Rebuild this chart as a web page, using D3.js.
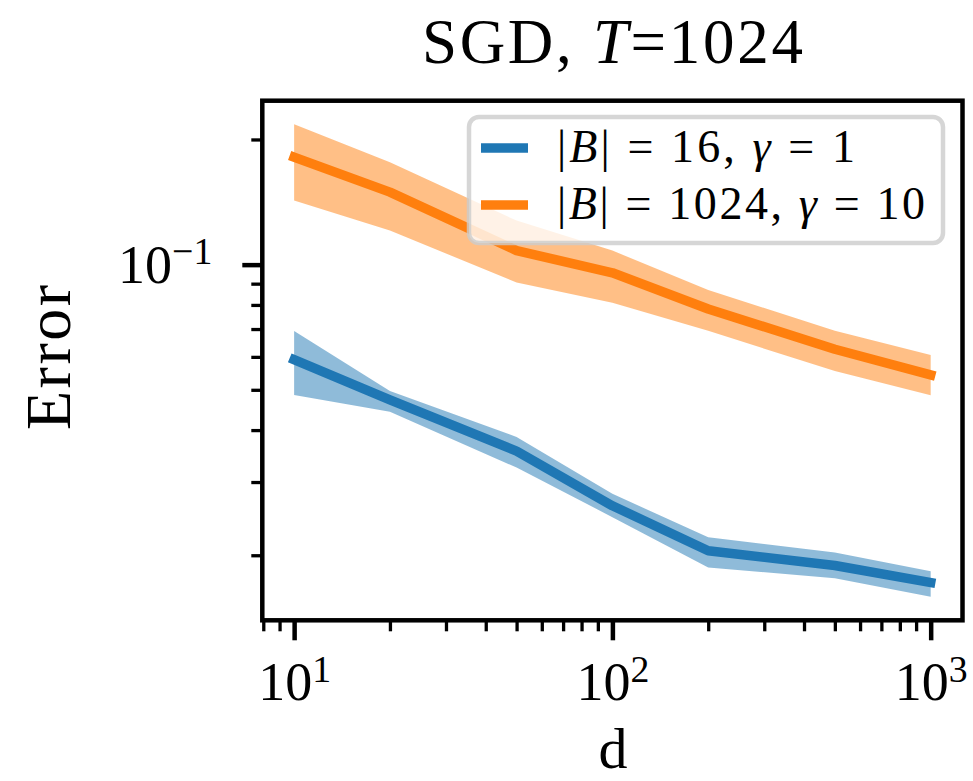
<!DOCTYPE html>
<html>
<head>
<meta charset="utf-8">
<script src="https://cdn.jsdelivr.net/npm/d3@7/dist/d3.min.js"></script>
<style>
  html, body { margin: 0; padding: 0; background: #ffffff; }
  svg { display: block; }
  text { font-family: "Liberation Serif", "DejaVu Serif", serif; fill: #000; }
</style>
</head>
<body>
<svg id="chart" width="973" height="781"></svg>
<script>
// ---------------- data ----------------
const dValues    = [10, 20, 50, 100, 200, 500, 1000];
const blueMean   = [0.0591, 0.0473, 0.0356, 0.0263, 0.0205, 0.0189, 0.0172];
const blueLow    = [0.0486, 0.0443, 0.0325, 0.0247, 0.0187, 0.0176, 0.0159];
const blueHigh   = [0.0692, 0.0497, 0.0385, 0.0281, 0.0221, 0.0203, 0.0183];
const orangeMean = [0.1814, 0.1494, 0.1081, 0.0956, 0.0782, 0.0626, 0.0543];
const orangeLow  = [0.1427, 0.1208, 0.0906, 0.0810, 0.0693, 0.0555, 0.0485];
const orangeHigh = [0.2175, 0.1764, 0.1276, 0.1081, 0.0869, 0.0693, 0.0606];

const seriesNames = ["|B| = 16, γ = 1", "|B| = 1024, γ = 10"];
const xMajorTicks = [10, 100, 1000];
const xTickExponents = ["1", "2", "3"];
const yMajorTicks = [0.1];
const yTickExponents = ["\u22121"];
const titleText = "SGD, T=1024";
const xLabel = "d";
const yLabel = "Error";

// ---------------- layout ----------------
const plot = { left: 262.3, right: 962.5, top: 100.7, bottom: 620.3 };
const C = { blue: "#1f77b4", orange: "#ff7f0e" };

const svg = d3.select("#chart");

// x: log scale with matplotlib-like 5% (log) margins
const xLo = Math.log10(d3.min(dValues)), xHi = Math.log10(d3.max(dValues));
const xm = (xHi - xLo) * 0.05;
const x = d3.scaleLog().domain([10 ** (xLo - xm), 10 ** (xHi + xm)]).range([plot.left, plot.right]);

const allY = blueLow.concat(blueHigh, orangeLow, orangeHigh, blueMean, orangeMean);
const yLo = Math.log10(d3.min(allY)), yHi = Math.log10(d3.max(allY));
const ym = (yHi - yLo) * 0.05;
const y = d3.scaleLog().domain([10 ** (yLo - ym), 10 ** (yHi + ym)]).range([plot.bottom, plot.top]);

// minor ticks
const xMinor = [];
for (let e = 0; e <= 3; e++) for (let k = 2; k <= 9; k++) {
  const v = k * 10 ** e; if (v >= x.domain()[0] && v <= x.domain()[1]) xMinor.push(v);
}
const yMinor = [];
for (let e = -3; e <= 0; e++) for (let k = 2; k <= 9; k++) {
  const v = k * 10 ** e; if (v >= y.domain()[0] && v <= y.domain()[1]) yMinor.push(v);
}

// clip
svg.append("defs").append("clipPath").attr("id", "clip")
  .append("rect").attr("x", plot.left).attr("y", plot.top)
  .attr("width", plot.right - plot.left).attr("height", plot.bottom - plot.top);

const g = svg.append("g").attr("clip-path", "url(#clip)");

function bandData(lo, hi) { return dValues.map((d, i) => ({ d, lo: lo[i], hi: hi[i] })); }
function lineData(m) { return dValues.map((d, i) => ({ d, v: m[i] })); }

const area = d3.area().x(p => x(p.d)).y0(p => y(p.lo)).y1(p => y(p.hi));
const line = d3.line().x(p => x(p.d)).y(p => y(p.v));

const series = [
  { mean: blueMean, lo: blueLow, hi: blueHigh, color: C.blue },
  { mean: orangeMean, lo: orangeLow, hi: orangeHigh, color: C.orange }
];
series.forEach(s => {
  g.append("path").datum(bandData(s.lo, s.hi)).attr("d", area)
    .attr("fill", s.color).attr("fill-opacity", 0.5).attr("stroke", "none");
  g.append("path").datum(lineData(s.mean)).attr("d", line)
    .attr("fill", "none").attr("stroke", s.color).attr("stroke-width", 9.5)
    .attr("stroke-linecap", "square").attr("stroke-linejoin", "round");
});

// axes
const fs = 54;
const xMinorAxis = svg.append("g").attr("transform", `translate(0,${plot.bottom})`)
  .call(d3.axisBottom(x).tickValues(xMinor).tickSize(11).tickFormat(""));
const xMajorAxis = svg.append("g").attr("transform", `translate(0,${plot.bottom})`)
  .call(d3.axisBottom(x).tickValues(xMajorTicks).tickSize(20).tickFormat(() => "10"));
const yMinorAxis = svg.append("g").attr("transform", `translate(${plot.left},0)`)
  .call(d3.axisLeft(y).tickValues(yMinor).tickSize(11).tickFormat(""));
const yMajorAxis = svg.append("g").attr("transform", `translate(${plot.left},0)`)
  .call(d3.axisLeft(y).tickValues(yMajorTicks).tickSize(20).tickFormat(() => "10"));

[xMinorAxis, xMajorAxis, yMinorAxis, yMajorAxis].forEach(a => a.select(".domain").remove());
[xMinorAxis, yMinorAxis].forEach(a => a.selectAll(".tick line").attr("stroke", "#000").attr("stroke-width", 3.3));
[xMajorAxis, yMajorAxis].forEach(a => a.selectAll(".tick line").attr("stroke", "#000").attr("stroke-width", 4.5));

xMajorAxis.selectAll(".tick text")
  .attr("font-family", "Liberation Serif, serif").attr("font-size", fs)
  .attr("y", 80).attr("dy", 0).attr("fill", "#000")
  .each(function(d, i) {
    d3.select(this).append("tspan").attr("dy", -18).attr("font-size", fs * 0.7).text(xTickExponents[i]);
  });
yMajorAxis.selectAll(".tick text")
  .attr("font-family", "Liberation Serif, serif").attr("font-size", fs)
  .attr("x", -50).attr("dy", "0.33em").attr("fill", "#000")
  .each(function(d, i) {
    d3.select(this).append("tspan").attr("dy", -19).attr("font-size", fs * 0.7).text(yTickExponents[i]);
  });

// spines
svg.append("rect").attr("x", plot.left).attr("y", plot.top)
  .attr("width", plot.right - plot.left).attr("height", plot.bottom - plot.top)
  .attr("fill", "none").attr("stroke", "#000").attr("stroke-width", 4.5);

// legend
const leg = svg.append("g");
leg.append("rect").attr("x", 469).attr("y", 117).attr("width", 474).attr("height", 126)
  .attr("rx", 10).attr("ry", 10)
  .attr("fill", "#fff").attr("fill-opacity", 0.8)
  .attr("stroke", "#cccccc").attr("stroke-opacity", 0.8).attr("stroke-width", 4.5);

const legRows = [
  { color: C.blue, yLine: 148, yText: 162, parts: [["|", false], ["B", true], ["| = 16, ", false], ["γ", true], [" = 1", false]], len: 298 },
  { color: C.orange, yLine: 205, yText: 218.5, parts: [["|", false], ["B", true], ["| = 1024, ", false], ["γ", true], [" = 10", false]], len: 368 }
];
legRows.forEach((r, i) => {
  leg.append("line").attr("x1", 481).attr("x2", 528).attr("y1", r.yLine).attr("y2", r.yLine)
    .attr("stroke", r.color).attr("stroke-width", 9.3);
  const t = leg.append("text").attr("x", 557).attr("y", r.yText).attr("font-size", 46)
    .attr("textLength", r.len).attr("lengthAdjust", "spacing")
    .attr("aria-label", seriesNames[i]).style("white-space", "pre");
  r.parts.forEach(p => t.append("tspan").attr("font-style", p[1] ? "italic" : "normal").text(p[0]));
});

// title
const tt = svg.append("text").attr("x", (plot.left + plot.right) / 2).attr("y", 63)
  .attr("text-anchor", "middle").attr("font-size", 63)
  .attr("textLength", 381).attr("lengthAdjust", "spacing").style("white-space", "pre");
tt.append("tspan").text("SGD, ");
tt.append("tspan").attr("font-style", "italic").text("T");
tt.append("tspan").text("=1024");

// axis labels
svg.append("text").attr("x", 613).attr("y", 768).attr("text-anchor", "middle")
  .attr("font-size", 58).text(xLabel);
svg.append("text").attr("transform", `translate(70,${(plot.top + plot.bottom) / 2 - 3}) rotate(-90)`)
  .attr("text-anchor", "middle").attr("font-size", 64)
  .attr("textLength", 145).attr("lengthAdjust", "spacing").text(yLabel);
</script>
</body>
</html>
